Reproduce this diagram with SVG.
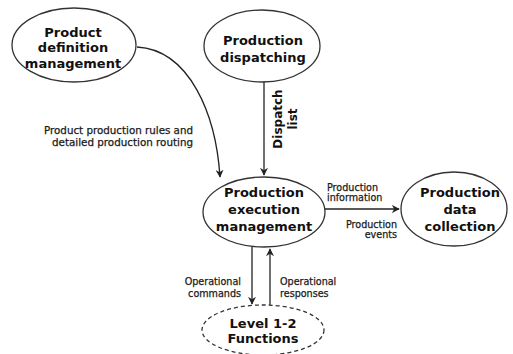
<svg xmlns="http://www.w3.org/2000/svg" width="513" height="354" viewBox="0 0 513 354">
  <defs>
    <marker id="arrow" viewBox="0 0 10 10" refX="9" refY="5" markerWidth="8" markerHeight="8" markerUnits="userSpaceOnUse" orient="auto">
      <path d="M0,0 L10,5 L0,10 L3,5 z" fill="#222"/>
    </marker>
    <style>
      .node { fill: #fff; stroke: #333; stroke-width: 1.3; }
      .dashed { stroke-dasharray: 4 3; }
      .title { font-family: "DejaVu Sans", Verdana, sans-serif; font-weight: bold; font-size: 13px; fill: #111; text-anchor: middle; }
      .edge { fill: none; stroke: #222; stroke-width: 1.3; marker-end: url(#arrow); }
      .label { font-family: "DejaVu Sans", Verdana, sans-serif; font-size: 9.6px; fill: #1a1a1a; stroke: #1a1a1a; stroke-width: 0.25; }
      .vlabel { font-family: "DejaVu Sans", sans-serif; font-weight: bold; font-size: 12px; fill: #111; text-anchor: middle; }
    </style>
  </defs>
  <rect width="513" height="354" fill="#fff"/>

  <!-- connectors and their labels -->
  <g id="connectors">
    <path class="edge" d="M137,47 C190,50 216,115 220,177"/>
    <line class="edge" x1="264" y1="82" x2="264" y2="175"/>
    <line class="edge" x1="325" y1="209" x2="399" y2="209"/>
    <line class="edge" x1="252" y1="247" x2="252" y2="304"/>
    <line class="edge" x1="270" y1="305" x2="270" y2="249"/>

    <text class="label" x="44" y="134" textLength="149" lengthAdjust="spacingAndGlyphs">Product production rules and</text>
    <text class="label" x="52" y="146" textLength="141" lengthAdjust="spacingAndGlyphs">detailed production routing</text>
    <text class="vlabel" transform="translate(282,119) rotate(-90)">Dispatch</text>
    <text class="vlabel" transform="translate(297,119) rotate(-90)">list</text>
    <text class="label" x="327" y="191">Production</text>
    <text class="label" x="327" y="201">information</text>
    <text class="label" text-anchor="end" x="397" y="228">Production</text>
    <text class="label" text-anchor="end" x="397" y="238">events</text>
    <text class="label" text-anchor="end" x="241" y="285">Operational</text>
    <text class="label" text-anchor="end" x="241" y="297">commands</text>
    <text class="label" x="280" y="285">Operational</text>
    <text class="label" x="280" y="297">responses</text>
  </g>

  <g id="product-definition">
    <ellipse class="node" cx="74" cy="45" rx="62" ry="37"/>
    <text class="title" x="73" y="37">Product</text>
    <text class="title" x="73" y="52">definition</text>
    <text class="title" x="73" y="68">management</text>
  </g>

  <g id="production-dispatching">
    <ellipse class="node" cx="262" cy="46" rx="58" ry="36"/>
    <text class="title" x="263" y="45">Production</text>
    <text class="title" x="263" y="62">dispatching</text>
  </g>

  <g id="production-execution">
    <ellipse class="node" cx="264" cy="212" rx="61" ry="35"/>
    <text class="title" x="264" y="197">Production</text>
    <text class="title" x="264" y="214">execution</text>
    <text class="title" x="264" y="231">management</text>
  </g>

  <g id="production-data-collection">
    <ellipse class="node" cx="454" cy="209" rx="53" ry="37"/>
    <text class="title" x="460" y="197">Production</text>
    <text class="title" x="460" y="214">data</text>
    <text class="title" x="460" y="231">collection</text>
  </g>

  <g id="level-1-2">
    <ellipse class="node dashed" cx="263" cy="330" rx="61" ry="25"/>
    <text class="title" x="263" y="328">Level 1-2</text>
    <text class="title" x="263" y="343">Functions</text>
  </g>
</svg>
